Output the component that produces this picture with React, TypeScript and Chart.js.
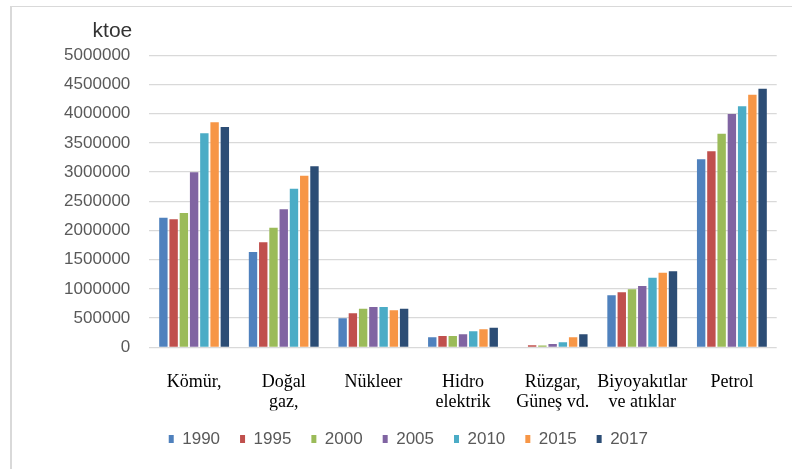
import React, { useEffect, useRef } from "react";
import { Chart, registerables } from "chart.js";

Chart.register(...registerables);

// Energy sources (x axis categories), multi-line where the label wraps
const categories: (string | string[])[] = [
  "Kömür,",
  ["Doğal", "gaz,"],
  "Nükleer",
  ["Hidro", "elektrik"],
  ["Rüzgar,", "Güneş vd."],
  ["Biyoyakıtlar", "ve atıklar"],
  "Petrol",
];

const years = ["1990", "1995", "2000", "2005", "2010", "2015", "2017"];

// ktoe per source, one array per year
const values1990 = [2219000, 1632000, 497000, 171000, 0, 890000, 3219000];
const values1995 = [2192000, 1798000, 582000, 193000, 34000, 942000, 3356000];
const values2000 = [2300000, 2048000, 661000, 193000, 30000, 993000, 3658000];
const values2005 = [2997000, 2363000, 690000, 223000, 57000, 1050000, 3995000];
const values2010 = [3664000, 2716000, 690000, 274000, 86000, 1192000, 4127000];
const values2015 = [3853000, 2938000, 634000, 308000, 171000, 1277000, 4325000];
const values2017 = [3772000, 3099000, 661000, 336000, 223000, 1301000, 4428000];

const seriesValues = [
  values1990,
  values1995,
  values2000,
  values2005,
  values2010,
  values2015,
  values2017,
];

const seriesColors = [
  "#4F81BD",
  "#C0504D",
  "#9BBB59",
  "#8064A2",
  "#4BACC6",
  "#F79646",
  "#2C4D75",
];

// Y axis range and tick step
const yMin = 0;
const yMax = 5000000;
const yStep = 500000;
const unitLabel = "ktoe";

const SANS = "'Liberation Sans', Arial, sans-serif";
const SERIF = "'Liberation Serif', 'Times New Roman', serif";

// Draws the unit caption above the value axis
const unitCaption = {
  id: "unitCaption",
  afterDraw(chart: any) {
    const { ctx, chartArea } = chart;
    ctx.save();
    ctx.font = `21px ${SANS}`;
    ctx.fillStyle = "#333333";
    ctx.textAlign = "right";
    ctx.textBaseline = "alphabetic";
    ctx.fillText(unitLabel, chartArea.left - 17, chartArea.top - 18.6);
    ctx.restore();
  },
};

export default function App() {
  const canvasRef = useRef<HTMLCanvasElement | null>(null);

  useEffect(() => {
    if (!canvasRef.current) return;
    const chart = new Chart(canvasRef.current, {
      type: "bar",
      data: {
        labels: categories as any,
        datasets: years.map((y, i) => ({
          label: y,
          data: seriesValues[i],
          backgroundColor: seriesColors[i],
          borderWidth: 0,
          categoryPercentage: 0.8,
          barPercentage: 0.82,
        })),
      },
      options: {
        animation: false,
        responsive: false,
        layout: {
          padding: { left: 40, right: 15.3, top: 55.3, bottom: 11.5 },
        },
        plugins: {
          legend: {
            position: "bottom",
            align: "center",
            labels: {
              boxWidth: 5,
              boxHeight: 8,
              padding: 20,
              color: "#595959",
              font: { family: SANS, size: 17 },
            },
          },
          tooltip: { enabled: false },
          title: { display: false },
        },
        scales: {
          x: {
            grid: { display: false },
            border: { display: false },
            ticks: {
              color: "#000000",
              font: { family: SERIF, size: 18, lineHeight: 1.12 },
              padding: 17,
              maxRotation: 0,
              autoSkip: false,
            },
            afterFit(scale: any) {
              scale.height = 63.2;
            },
          },
          y: {
            min: yMin,
            max: yMax,
            grid: { color: "#d9d9d9", lineWidth: 1.3, drawTicks: false },
            border: { display: false },
            ticks: {
              stepSize: yStep,
              color: "#595959",
              font: { family: SANS, size: 17 },
              padding: 19,
              callback: (v: any) => String(v),
            },
            afterFit(scale: any) {
              scale.width = 109.3;
            },
          },
        },
      },
      plugins: [unitCaption],
    });
    return () => chart.destroy();
  }, []);

  return (
    <div
      style={{
        position: "absolute",
        left: 0,
        top: 0,
        width: 792,
        height: 469,
        background: "#ffffff",
        overflow: "hidden",
      }}
    >
      <div
        style={{
          position: "absolute",
          left: 10,
          top: 6,
          right: -4,
          bottom: -4,
          borderTop: "1.5px solid #d9d9d9",
          borderLeft: "2px solid #d9d9d9",
        }}
      />
      <canvas
        ref={canvasRef}
        width={792}
        height={469}
        style={{ position: "absolute", left: 0, top: 0, display: "block" }}
      />
    </div>
  );
}
